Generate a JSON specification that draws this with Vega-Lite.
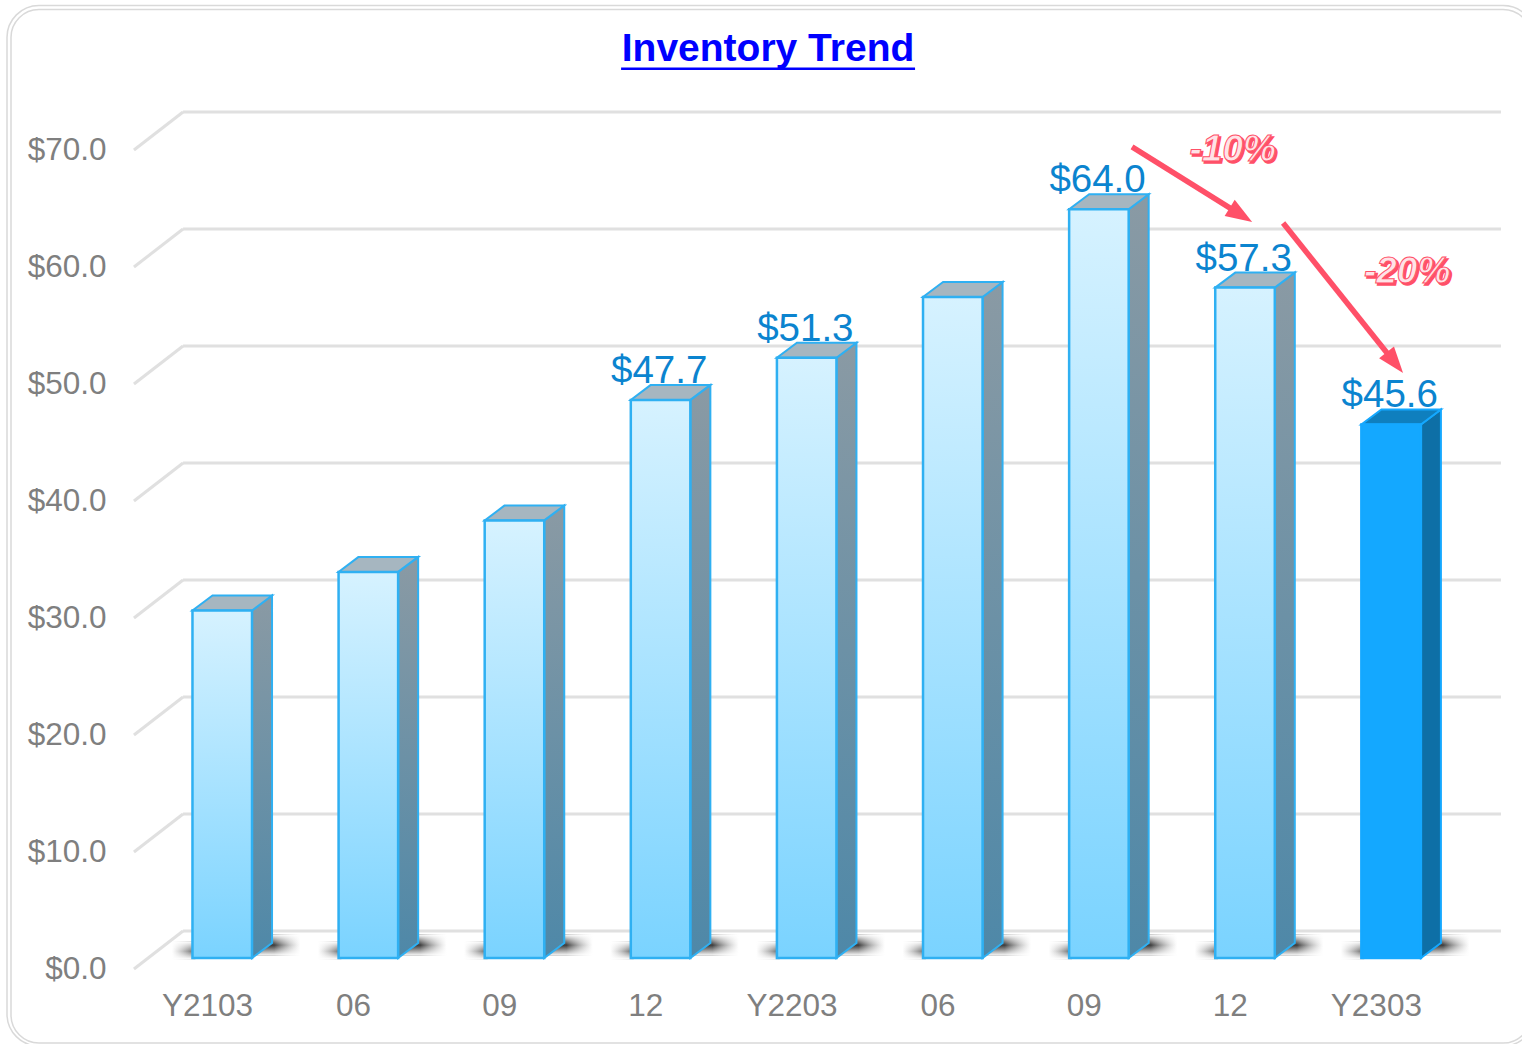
{
"$schema":"https://vega.github.io/schema/vega-lite/v6.json",
"width":1522,"height":1044,"padding":0,"autosize":{"type":"none"},"background":"white",
"config":{"view":{"stroke":null},"font":"Liberation Sans"},
"title":{"text":"Inventory Trend","font":"Liberation Sans","fontSize":39,"fontWeight":"bold","color":"#0000ff","anchor":"middle","frame":"group","baseline":"alphabetic","offset":-62,"dx":7,"dy":38},
"datasets":{
"bars":[
{"i":0,"label":"Y2103","value":29.7},
{"i":1,"label":"06","value":33.0},
{"i":2,"label":"09","value":37.4},
{"i":3,"label":"12","value":47.7},
{"i":4,"label":"Y2203","value":51.3},
{"i":5,"label":"06","value":56.5},
{"i":6,"label":"09","value":64.0},
{"i":7,"label":"12","value":57.3},
{"i":8,"label":"Y2303","value":45.6}],
"grid":[{"v":0},{"v":10},{"v":20},{"v":30},{"v":40},{"v":50},{"v":60},{"v":70}],
"arrows":[{"x0":6.331,"v0":69.32,"x1":7.153,"v1":62.91},{"x0":7.365,"v0":62.82,"x1":8.186,"v1":50.0}],
"notes":[{"label":"-10%","i":7.02,"value":69.06},{"label":"-20%","i":8.214,"value":58.65}]
},
"encoding":{
"x":{"field":"x","type":"quantitative","stack":null,"scale":{"domain":[-1.4168,9.0],"nice":false,"zero":false},
"axis":{"title":null,"grid":false,"domain":false,"ticks":false,"values":[0,1,2,3,4,5,6,7,8],"labelExpr":"['Y2103','06','09','12','Y2203','06','09','12','Y2303'][datum.value]","labelFont":"Liberation Sans","labelFontSize":31.5,"labelColor":"#7f7f7f","labelBaseline":"middle","labelPadding":0,"offset":-38,"labelFlush":false,"labelOverlap":false,"labelBound":false}},
"y":{"field":"y","type":"quantitative","stack":null,"scale":{"domain":[-7.35,81.88],"nice":false,"zero":false},
"axis":{"title":null,"grid":false,"domain":false,"ticks":false,"values":[0,10,20,30,40,50,60,70],"format":"$.1f","labelFont":"Liberation Sans","labelFontSize":31.5,"labelColor":"#7f7f7f","labelBaseline":"middle","labelAlign":"right","labelPadding":0,"labelOffset":11.5,"offset":-106,"labelOverlap":false,"labelBound":false}}
},
"layer":[
{"data":{"values":[{"id":"outer"}]},
"transform":[{"calculate":"(7-207)/146.1","as":"x"},{"calculate":"(1535-207)/146.1","as":"x2"},{"calculate":"(958-5.5)/11.7","as":"y"},{"calculate":"(958-1046)/11.7","as":"y2"}],
"mark":{"type":"rect","fill":"transparent","stroke":"#d9d9d9","strokeWidth":1.5,"cornerRadius":32},
"encoding":{"x2":{"field":"x2"},"y2":{"field":"y2"}}},
{"data":{"values":[{"id":"inner"}]},
"transform":[{"calculate":"(11-207)/146.1","as":"x"},{"calculate":"(1531-207)/146.1","as":"x2"},{"calculate":"(958-9.5)/11.7","as":"y"},{"calculate":"(958-1043)/11.7","as":"y2"}],
"mark":{"type":"rect","fill":"transparent","stroke":"#d9d9d9","strokeWidth":1.5,"cornerRadius":28},
"encoding":{"x2":{"field":"x2"},"y2":{"field":"y2"}}},
{"data":{"name":"grid"},
"transform":[{"calculate":"-0.164","as":"x"},{"calculate":"8.856","as":"x2"},{"calculate":"datum.v+2.308","as":"y"}],
"mark":{"type":"rule","stroke":"#e0e0e0","strokeWidth":3},
"encoding":{"x2":{"field":"x2"}}},
{"data":{"name":"grid"},
"transform":[{"calculate":"-0.5","as":"x"},{"calculate":"-0.164","as":"x2"},{"calculate":"datum.v-0.94","as":"y"},{"calculate":"datum.v+2.308","as":"y2"}],
"mark":{"type":"rule","stroke":"#e0e0e0","strokeWidth":3},
"encoding":{"x2":{"field":"x2"},"y2":{"field":"y2"}}},
{"data":{"name":"bars"},
"transform":[{"calculate":"datum.i+0.28","as":"x"},{"calculate":"datum.i+0.64","as":"x2"},{"calculate":"2.0","as":"y"},{"calculate":"0.2","as":"y2"}],
"mark":{"type":"rect","fill":{"gradient":"linear","x1":0,"y1":0,"x2":1,"y2":0,"stops":[{"offset":0,"color":"rgba(40,40,40,1)"},{"offset":0.5,"color":"rgba(50,50,50,0.95)"},{"offset":1,"color":"rgba(150,150,150,0)"}]}},
"encoding":{"x2":{"field":"x2"},"y2":{"field":"y2"}}},
{"data":{"name":"bars"},
"transform":[{"calculate":"datum.i+0.28","as":"x"},{"calculate":"datum.i+0.64","as":"x2"},{"calculate":"2.0","as":"y"},{"calculate":"0.2","as":"y2"}],
"mark":{"type":"rect","fill":{"gradient":"linear","x1":0,"y1":0,"x2":0,"y2":1,"stops":[{"offset":0,"color":"rgba(255,255,255,1)"},{"offset":0.5,"color":"rgba(255,255,255,0)"},{"offset":1,"color":"rgba(255,255,255,1)"}]}},
"encoding":{"x2":{"field":"x2"},"y2":{"field":"y2"}}},
{"data":{"name":"bars"},
"transform":[{"calculate":"datum.i-0.24","as":"x"},{"calculate":"datum.i-0.08","as":"x2"},{"calculate":"1.4","as":"y"},{"calculate":"-0.1","as":"y2"}],
"mark":{"type":"rect","fill":{"gradient":"linear","x1":0,"y1":0,"x2":1,"y2":0,"stops":[{"offset":0,"color":"rgba(150,150,150,0)"},{"offset":1,"color":"rgba(90,90,90,1)"}]}},
"encoding":{"x2":{"field":"x2"},"y2":{"field":"y2"}}},
{"data":{"name":"bars"},
"transform":[{"calculate":"datum.i-0.24","as":"x"},{"calculate":"datum.i-0.08","as":"x2"},{"calculate":"1.4","as":"y"},{"calculate":"-0.1","as":"y2"}],
"mark":{"type":"rect","fill":{"gradient":"linear","x1":0,"y1":0,"x2":0,"y2":1,"stops":[{"offset":0,"color":"rgba(255,255,255,1)"},{"offset":0.55,"color":"rgba(255,255,255,0)"},{"offset":1,"color":"rgba(255,255,255,1)"}]}},
"encoding":{"x2":{"field":"x2"},"y2":{"field":"y2"}}},
{"data":{"name":"bars"},
"transform":[{"filter":"datum.i!=1&&datum.i!=0&&datum.i!=2&&datum.i!=5"},{"calculate":"datum.i+0.095","as":"x"},{"calculate":"datum.value","as":"y"}],
"mark":{"type":"text","font":"Liberation Sans","fontSize":38.5,"color":"#0b84cf","baseline":"alphabetic","align":"center","dy":-17},
"encoding":{"text":{"field":"value","type":"quantitative","format":"$.1f"}}},
{"data":{"name":"bars"},
"transform":[{"filter":"datum.i<8"},{"calculate":"[datum.i+0.308,datum.i+0.445]","as":"x"},{"calculate":"[datum.value,datum.value+1.282]","as":"y"},{"calculate":"[0,1.282]","as":"y2"},{"flatten":["x","y","y2"]}],
"mark":{"type":"area","stroke":"#2fb0f2","strokeWidth":2,"fill":{"gradient":"linear","x1":0,"y1":0,"x2":0,"y2":1,"stops":[{"offset":0,"color":"#8a9aa4"},{"offset":1,"color":"#4e88a8"}]}},
"encoding":{"y2":{"field":"y2"},"detail":{"field":"i","type":"nominal"}}},
{"data":{"name":"bars"},
"transform":[{"filter":"datum.i<8"},{"calculate":"[datum.i-0.0995,datum.i+0.0374]","as":"x"},{"calculate":"[datum.i+0.308,datum.i+0.445]","as":"x2"},{"calculate":"[datum.value,datum.value+1.282]","as":"y"},{"flatten":["x","x2","y"]}],
"mark":{"type":"area","orient":"horizontal","fill":"#a6b6c0","stroke":"#2fb0f2","strokeWidth":2},
"encoding":{"x2":{"field":"x2"},"detail":{"field":"i","type":"nominal"}}},
{"data":{"name":"bars"},
"transform":[{"filter":"datum.i<8"},{"calculate":"datum.i-0.0995","as":"x"},{"calculate":"datum.i+0.308","as":"x2"},{"calculate":"datum.value","as":"y"},{"calculate":"0","as":"y2"}],
"mark":{"type":"rect","stroke":"#2fb0f2","strokeWidth":2.5,"fill":{"gradient":"linear","x1":0,"y1":0,"x2":0,"y2":1,"stops":[{"offset":0,"color":"#d6f2ff"},{"offset":1,"color":"#7ad3ff"}]}},
"encoding":{"x2":{"field":"x2"},"y2":{"field":"y2"}}},
{"data":{"name":"bars"},
"transform":[{"filter":"datum.i==8"},{"calculate":"[datum.i+0.308,datum.i+0.445]","as":"x"},{"calculate":"[datum.value,datum.value+1.282]","as":"y"},{"calculate":"[0,1.282]","as":"y2"},{"flatten":["x","y","y2"]}],
"mark":{"type":"area","stroke":"#14a8ff","strokeWidth":2,"fill":"#0e6fa6"},
"encoding":{"y2":{"field":"y2"},"detail":{"field":"i","type":"nominal"}}},
{"data":{"name":"bars"},
"transform":[{"filter":"datum.i==8"},{"calculate":"[datum.i-0.0995,datum.i+0.0374]","as":"x"},{"calculate":"[datum.i+0.308,datum.i+0.445]","as":"x2"},{"calculate":"[datum.value,datum.value+1.282]","as":"y"},{"flatten":["x","x2","y"]}],
"mark":{"type":"area","orient":"horizontal","fill":"#0f7fbe","stroke":"#14a8ff","strokeWidth":2},
"encoding":{"x2":{"field":"x2"},"detail":{"field":"i","type":"nominal"}}},
{"data":{"name":"bars"},
"transform":[{"filter":"datum.i==8"},{"calculate":"datum.i-0.0995","as":"x"},{"calculate":"datum.i+0.308","as":"x2"},{"calculate":"datum.value","as":"y"},{"calculate":"0","as":"y2"}],
"mark":{"type":"rect","stroke":"#14a8ff","strokeWidth":2.5,"fill":"#14a8ff"},
"encoding":{"x2":{"field":"x2"},"y2":{"field":"y2"}}},
{"data":{"name":"arrows"},
"transform":[{"calculate":"datum.x0","as":"x"},{"calculate":"datum.x0+(datum.x1-datum.x0)*0.92","as":"x2"},{"calculate":"datum.v0","as":"y"},{"calculate":"datum.v0+(datum.v1-datum.v0)*0.92","as":"y2"}],
"mark":{"type":"rule","stroke":"#ff5068","strokeWidth":5.5},
"encoding":{"x2":{"field":"x2"},"y2":{"field":"y2"}}},
{"data":{"name":"arrows"},
"transform":[{"calculate":"datum.x1","as":"x"},{"calculate":"datum.v1","as":"y"},{"calculate":"atan2((datum.x1-datum.x0)*146.1,(datum.v1-datum.v0)*11.7)*180/PI","as":"angle"}],
"mark":{"type":"point","shape":"M0,0L0.36,1L-0.36,1Z","size":2800,"filled":true,"opacity":1,"fill":"#ff5068","stroke":null},
"encoding":{"angle":{"field":"angle","type":"quantitative","scale":null}}},
{"data":{"name":"notes"},
"transform":[{"calculate":"datum.i","as":"x"},{"calculate":"datum.value","as":"y"}],
"mark":{"type":"text","font":"Liberation Sans","fontSize":37,"fontWeight":"bold","fontStyle":"italic","fill":"#ff5068","stroke":"#ff5068","strokeWidth":1.5,"align":"center","baseline":"middle","dx":2,"dy":2},
"encoding":{"text":{"field":"label","type":"nominal"}}},
{"data":{"name":"notes"},
"transform":[{"calculate":"datum.i","as":"x"},{"calculate":"datum.value","as":"y"}],
"mark":{"type":"text","font":"Liberation Sans","fontSize":37,"fontWeight":"bold","fontStyle":"italic","fill":"#ffe3e7","stroke":"#ff5068","strokeWidth":1,"align":"center","baseline":"middle"},
"encoding":{"text":{"field":"label","type":"nominal"}}},
{"data":{"values":[{"id":"underline"}]},
"transform":[{"calculate":"2.834","as":"x"},{"calculate":"4.846","as":"x2"},{"calculate":"76.0","as":"y"}],
"mark":{"type":"rule","stroke":"#0000ff","strokeWidth":2.5},
"encoding":{"x2":{"field":"x2"}}}
]
}
